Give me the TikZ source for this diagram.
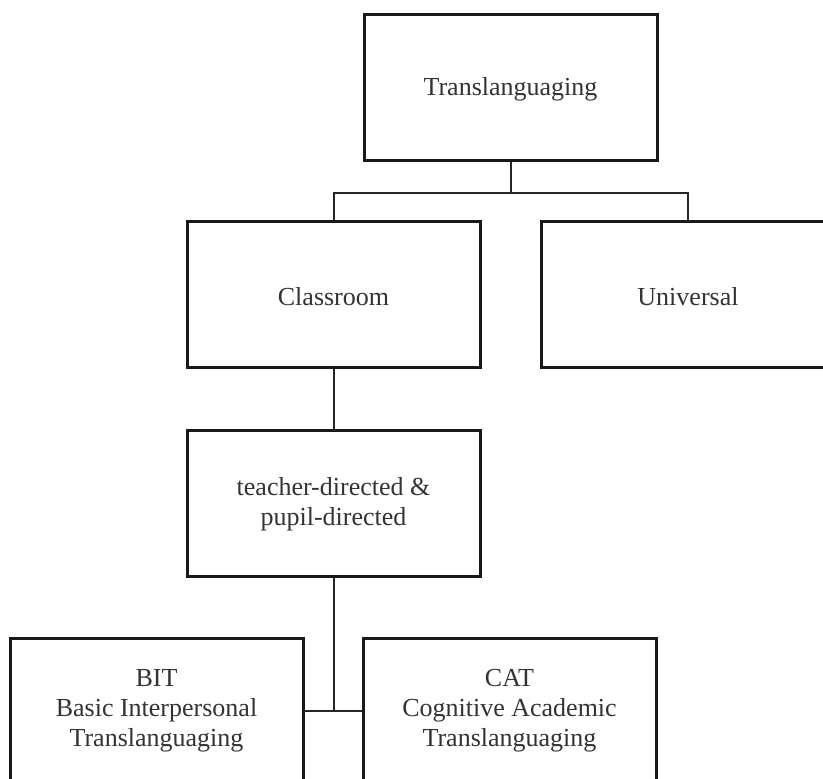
\documentclass[tikz,border=0pt]{standalone}
\usepackage{fontspec}
\setmainfont{Liberation Serif}
\usetikzlibrary{calc}
\begin{document}
\begin{tikzpicture}[x=0.5pt,y=-0.5pt,
  box/.style={draw=black!90,line width=1.5pt,minimum width=146.5pt,minimum height=73pt,inner sep=0pt},
  lbl/.style={text=black!80,align=center,font=\fontsize{13}{15}\selectfont,inner sep=0pt},
  conn/.style={draw=black!85,line width=1pt}]
\useasboundingbox (0,0) rectangle (823,778);
\clip (0,0) rectangle (823,778);
\node[box] (top) at (510.5,87) {};
\node[box] (classroom) at (333.5,294.5) {};
\node[box,minimum width=147pt] (universal) at (688,294.5) {};
\node[box] (teacher) at (333.5,503) {};
\node[box] (bit) at (156.5,711) {};
\node[box] (cat) at (509.5,711) {};
\node[lbl] (toptext) at ($(top.center)+(0,2.5)$) {Translanguaging};
\node[lbl] (classtext) at ($(classroom.center)+(0,2)$) {Classroom};
\node[lbl] (unitext) at ($(universal.center)+(0,2)$) {Universal};
\node[lbl] (teachtext) at ($(teacher.center)+(0,1)$) {teacher-directed \&\\pupil-directed};
\node[lbl] (bittext) at ($(bit.center)+(0,0)$) {BIT\\Basic Interpersonal\\Translanguaging};
\node[lbl] (cattext) at ($(cat.center)+(0,0)$) {CAT\\Cognitive Academic\\Translanguaging};
\draw[conn] (top.south) -- ++(0,31) coordinate (j1);
\draw[conn] (classroom.north) |- (j1) -| (universal.north);
\draw[conn] (classroom.south) -- (teacher.north);
\coordinate (j2) at (teacher.south |- bit.east);
\draw[conn] (teacher.south) -- (j2);
\draw[conn] (bit.east) -- (cat.west);
\end{tikzpicture}
\end{document}
